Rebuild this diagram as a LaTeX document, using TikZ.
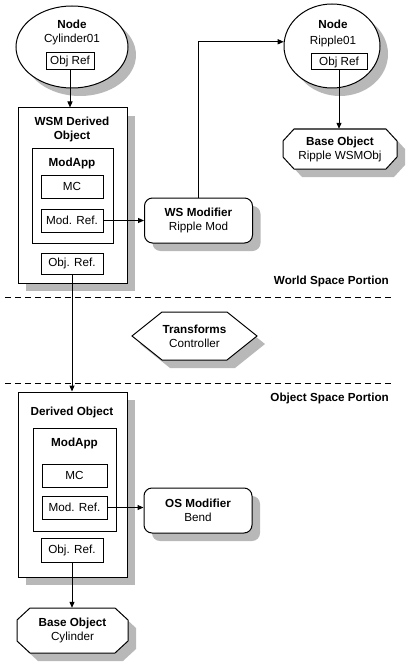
\documentclass[tikz,border=0pt]{standalone}
\usepackage{fontspec}
\setmainfont{Liberation Sans}
\usetikzlibrary{arrows.meta,shadows,shapes.geometric,calc}
\definecolor{shadowgray}{gray}{0.72}
\tikzset{
 base/.style={font=\fontsize{11.7}{14}\selectfont, inner sep=0pt},
 txt/.style={base},
 btxt/.style={base, font=\fontsize{11.7}{14}\selectfont\bfseries},
 box/.style={base, draw, line width=1pt, fill=white, rectangle},
 shad/.style={general shadow={fill=shadowgray, shadow xshift=8pt, shadow yshift=-8pt}},
 arr/.style={line width=1pt, -{Triangle[length=6pt,width=5pt]}},
 sepline/.style={line width=1pt, dash pattern=on 6pt off 4pt},
 shapeline/.style={draw, line width=1pt, fill=white},
}
\newcommand\octshape[6]{%
 \path[fill=shadowgray, shift={({#1+8},{#2+8})}] (-#3+#5,-#4) -- (#3-#5,-#4) -- (#3,-#4+#6) -- (#3,#4-#6) -- (#3-#5,#4) -- (-#3+#5,#4) -- (-#3,#4-#6) -- (-#3,-#4+#6) -- cycle;
 \path[shapeline, shift={(#1,#2)}] (-#3+#5,-#4) -- (#3-#5,-#4) -- (#3,-#4+#6) -- (#3,#4-#6) -- (#3-#5,#4) -- (-#3+#5,#4) -- (-#3,#4-#6) -- (-#3,-#4+#6) -- cycle;}
\begin{document}
\begin{tikzpicture}[x=1pt,y=-1pt]
\useasboundingbox (0,0) rectangle (410,666);
% ---- Cylinder01 node
\node[box, ellipse, shad, minimum width=112pt, minimum height=82pt] (cyl) at (72,47) {};
\node[btxt] (cylt) at (72,24) {Node};
\node[txt] (cyln) at (72,39.5) {Cylinder01};
\node[box, minimum width=48pt, minimum height=17pt] (cylref) at (70,61.5) {Obj Ref};
% ---- Ripple01 node
\node[box, ellipse, shad, minimum width=96pt, minimum height=84pt] (rip) at (332,46) {};
\node[btxt] (ript) at (333,24) {Node};
\node[txt] (ripn) at (333,41) {Ripple01};
\node[box, minimum width=56pt, minimum height=16pt] (ripref) at (339,62) {Obj Ref};
% ---- Ripple base object
\octshape{340}{149}{57}{20}{11}{12}
\node[txt, align=center, minimum height=40pt] (ripbase) at (340,149) {\textbf{Base Object}\\Ripple WSMObj};
\draw[arr] (ripref.south) -- (ripref.south |- ripbase.north);
% ---- WSM derived object
\node[box, shad, minimum width=109pt, minimum height=175pt] (wsm) at (72.5,195.5) {};
\node[btxt, align=center] (wsmt) at (72,129) {WSM Derived\\Object};
\node[box, minimum width=81pt, minimum height=95pt] (ma1) at (72.5,195.5) {};
\node[btxt] (ma1t) at (72,163) {ModApp};
\node[box, minimum width=62pt, minimum height=23pt] (mc1) at (72,186.5) {MC};
\node[box, minimum width=62pt, minimum height=23pt] (mr1) at (72,220.5) {Mod. Ref.};
\node[box, minimum width=62pt, minimum height=21pt] (or1) at (72,263.5) {Obj. Ref.};
\node[box, shad, rounded corners=8pt, minimum width=108pt, minimum height=45pt, align=center] (wsmod) at (198.5,220.5) {\textbf{WS Modifier}\\Ripple Mod};
\draw[arr] (cylref.south) -- (cylref.south |- wsm.north);
\draw[arr] (mr1.east) -- (wsmod.west);
\draw[arr] (wsmod.north) |- (rip.175);
% ---- separators
\coordinate (d1a) at (5,297.5); \coordinate (d1b) at (392,297.5);
\coordinate (d2a) at (5,383); \coordinate (d2b) at (392,383);
\draw[sepline] (d1a) -- (d1b);
\draw[sepline] (d2a) -- (d2b);
\node[btxt, anchor=east] (wsp) at (389,281) {World Space Portion};
\node[btxt, anchor=east] (osp) at (389,398) {Object Space Portion};
% ---- Transforms controller
\path[fill=shadowgray, shift={(202.5,344)}] (-62.5,0) -- (-32.5,-24) -- (32.5,-24) -- (62.5,0) -- (32.5,24) -- (-32.5,24) -- cycle;
\path[shapeline, shift={(194.5,336)}] (-62.5,0) -- (-32.5,-24) -- (32.5,-24) -- (62.5,0) -- (32.5,24) -- (-32.5,24) -- cycle;
\node[txt, align=center] (tc) at (194.5,336) {\textbf{Transforms}\\Controller};
% ---- Derived object
\node[box, shad, minimum width=109pt, minimum height=185pt] (der) at (72.5,484.5) {};
\node[btxt] (dert) at (72,412) {Derived Object};
\node[box, minimum width=83pt, minimum height=103pt] (ma2) at (74.5,479.5) {};
\node[btxt] (ma2t) at (74.5,443) {ModApp};
\node[box, minimum width=65pt, minimum height=23pt] (mc2) at (74.5,475.5) {MC};
\node[box, minimum width=65pt, minimum height=23pt] (mr2) at (74.5,507.5) {Mod. Ref.};
\node[box, minimum width=62pt, minimum height=24pt] (or2) at (72,550) {Obj. Ref.};
\node[box, shad, rounded corners=8pt, minimum width=108pt, minimum height=45pt, align=center] (osmod) at (198,510.5) {\textbf{OS Modifier}\\Bend};
\draw[arr] (or1.south) -- (or1.south |- der.north);
\draw[arr] (mr2.east) -- (mr2.east -| osmod.west);
% ---- Cylinder base object
\octshape{72.5}{630.5}{55.5}{22.5}{13}{12}
\node[txt, align=center, minimum height=45pt] (cbase) at (72.5,630.5) {\textbf{Base Object}\\Cylinder};
\draw[arr] (or2.south) -- (or2.south |- cbase.north);
\end{tikzpicture}
\end{document}
